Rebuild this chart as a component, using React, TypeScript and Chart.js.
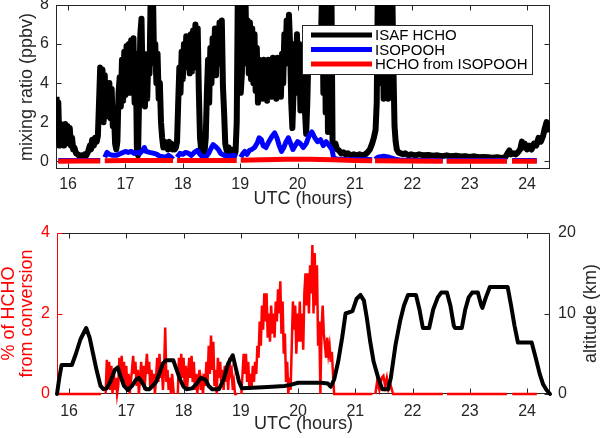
import React, { useEffect, useRef } from 'react';
import { Chart, registerables } from 'chart.js';
Chart.register(...registerables);

const FONT = "'Liberation Sans', Arial, Helvetica, sans-serif";
const AXIS = '#262626';
const RED = '#ff0000';
const BLUE = '#0000ff';
const BLACK = '#000000';

// ---------- tick labels ----------
const xTicks = [16, 17, 18, 19, 20, 21, 22, 23, 24];
const mixTicks = [0, 2, 4, 6, 8];
const pctTicks = [0, 2, 4];
const altTicks = [0, 10, 20];

const legendLabels = ['ISAF HCHO', 'ISOPOOH', 'HCHO from ISOPOOH'];
const legendColors = [BLACK, BLUE, RED];

// ---------- top panel: ISAF HCHO (ppbv) ----------
const hchoTime = [
  15.80, 15.81, 15.83, 15.85, 15.87, 15.89, 15.91, 15.93, 15.95, 15.97, 15.99, 16.01, 16.03, 16.05, 16.07, 16.09,
  16.11, 16.14, 16.17, 16.20, 16.23, 16.26, 16.29, 16.32, 16.35, 16.38, 16.40, 16.42, 16.45, 16.47, 16.50, 16.52,
  16.54, 16.56, 16.58, 16.60, 16.62, 16.64, 16.66, 16.68, 16.70, 16.72, 16.74, 16.76, 16.78, 16.80, 16.82, 16.84,
  16.86, 16.88, 16.90, 16.92, 16.94, 16.96, 16.98, 17.00, 17.02, 17.04, 17.06, 17.08, 17.10, 17.12, 17.14, 17.16,
  17.18, 17.20, 17.22, 17.24, 17.26, 17.28, 17.30, 17.32, 17.34, 17.36, 17.38, 17.40, 17.42, 17.44, 17.46, 17.48,
  17.50, 17.52, 17.54, 17.56, 17.58, 17.60, 17.62, 17.64, 17.66, 17.68, 17.70, 17.72, 17.74, 17.76, 17.78, 17.80,
  17.82, 17.84, 17.86, 17.88, 17.90, 17.92, 17.94, 17.96, 17.98, 18.00, 18.02, 18.04, 18.06, 18.08, 18.10, 18.12,
  18.14, 18.16, 18.18, 18.20, 18.22, 18.24, 18.26, 18.28, 18.30, 18.32, 18.34, 18.36, 18.38, 18.40, 18.42, 18.44,
  18.46, 18.48, 18.50, 18.52, 18.54, 18.56, 18.58, 18.60, 18.62, 18.64, 18.66, 18.68, 18.70, 18.72, 18.74, 18.76,
  18.78, 18.80, 18.82, 18.84, 18.86, 18.88, 18.90, 18.92, 18.94, 18.96, 18.99, 19.01, 19.03, 19.05, 19.09, 19.11,
  19.13, 19.15, 19.17, 19.19, 19.21, 19.23, 19.25, 19.27, 19.29, 19.31, 19.33, 19.35, 19.37, 19.39, 19.41, 19.43,
  19.45, 19.47, 19.49, 19.51, 19.53, 19.55, 19.57, 19.59, 19.61, 19.63, 19.65, 19.67, 19.69, 19.71, 19.73, 19.75,
  19.77, 19.79, 19.81, 19.83, 19.85, 19.87, 19.89, 19.91, 19.93, 19.95, 19.97, 19.99, 20.01, 20.03, 20.05, 20.07,
  20.09, 20.11, 20.13, 20.15, 20.17, 20.19, 20.21, 20.23, 20.25, 20.27, 20.29, 20.31, 20.33, 20.35, 20.37, 20.39,
  20.41, 20.43, 20.45, 20.47, 20.49, 20.51, 20.53, 20.55, 20.57, 20.59, 20.61, 20.63, 20.66, 20.69, 20.72, 20.76,
  20.80, 20.84, 20.88, 20.93, 20.98, 21.03, 21.08, 21.13, 21.18, 21.22, 21.26, 21.30, 21.33, 21.36, 21.38, 21.40,
  21.44, 21.46, 21.48, 21.50, 21.52, 21.54, 21.56, 21.58, 21.60, 21.65, 21.67, 21.69, 21.71, 21.73, 21.76, 21.80,
  21.84, 21.88, 21.93, 21.98, 22.05, 22.12, 22.20, 22.28, 22.36, 22.44, 22.52, 22.60, 22.68, 22.76, 22.84, 22.92,
  23.00, 23.08, 23.16, 23.24, 23.32, 23.40, 23.48, 23.56, 23.62, 23.66, 23.69, 23.72, 23.76, 23.80, 23.84, 23.88,
  23.91, 23.93, 23.96, 24.00, 24.04, 24.08, 24.12, 24.16, 24.20, 24.24, 24.28, 24.31, 24.34, 24.37, 24.40,
];
const hchoPpbv = [
  3.3, 1.2, 3.0, 0.8, 1.9, 0.9, 1.8, 0.8, 1.9, 0.9, 1.8, 1.0, 1.7, 0.8, 1.2, 0.6,
  0.7, 0.4, 0.35, 0.25, 0.3, 0.25, 0.35, 0.3, 0.5, 0.8, 0.6, 1.1, 0.8, 1.2, 1.0, 1.3,
  3.0, 4.8, 4.3, 4.7, 2.0, 4.4, 2.3, 3.9, 2.4, 4.0, 2.2, 3.7, 1.8, 2.5, 0.9, 0.6,
  1.0, 3.5, 4.3, 2.8, 5.2, 3.1, 5.6, 3.4, 5.9, 3.8, 6.0, 3.5, 6.2, 4.2, 6.3, 3.0,
  5.5, 0.6, 0.3, 3.5, 6.5, 7.3, 4.0, 5.5, 2.8, 4.8, 3.2, 5.5, 4.5, 8.5, 8.8, 8.6,
  5.0, 6.0, 4.0, 5.5, 3.2, 4.0, 2.0, 1.2, 0.7, 1.0, 0.7, 0.9, 0.6, 1.0, 0.7, 0.9,
  0.6, 0.8, 0.6, 0.7, 1.0, 3.0, 4.8, 3.5, 5.6, 4.2, 6.0, 4.8, 6.4, 5.0, 6.3, 4.5,
  6.5, 4.6, 6.7, 5.2, 7.0, 4.8, 6.8, 3.5, 1.2, 0.6, 0.4, 0.8, 0.5, 1.2, 3.5, 5.2,
  3.0, 5.8, 4.0, 6.3, 4.5, 6.8, 4.4, 6.6, 5.0, 7.1, 5.5, 7.2, 3.8, 2.5, 0.9, 0.6,
  0.4, 0.7, 0.3, 0.5, 0.3, 0.6, 0.3, 0.5, 2.0, 9.0, 9.0, 3.5, 4.5, 9.0, 9.0, 5.0,
  7.2, 4.5, 7.1, 4.2, 6.8, 4.0, 6.5, 3.6, 5.8, 3.0, 5.2, 3.3, 5.0, 3.2, 5.2, 3.6,
  5.1, 3.1, 5.2, 3.6, 5.0, 3.3, 5.3, 3.8, 5.0, 3.2, 5.3, 3.5, 5.0, 3.3, 5.5, 4.0,
  6.5, 5.0, 7.2, 5.8, 7.5, 6.0, 3.0, 1.7, 3.5, 6.0, 4.0, 6.5, 3.5, 6.0, 2.6, 5.0,
  2.8, 4.5, 2.5, 1.4, 3.0, 5.5, 6.5, 5.0, 6.8, 5.2, 6.5, 5.0, 6.6, 5.2, 6.8, 5.0,
  6.5, 9.0, 3.5, 9.0, 2.5, 9.0, 1.5, 9.0, 3.0, 9.0, 1.0, 0.7, 0.9, 0.6, 0.55, 0.4,
  0.45, 0.35, 0.4, 0.3, 0.35, 0.3, 0.35, 0.3, 0.35, 0.45, 0.6, 0.9, 1.2, 1.6, 3.0, 9.0,
  9.0, 4.0, 8.5, 3.2, 8.5, 3.5, 8.0, 3.2, 9.0, 9.0, 5.0, 1.8, 1.0, 0.6, 0.45, 0.4,
  0.35, 0.4, 0.3, 0.35, 0.3, 0.35, 0.3, 0.32, 0.28, 0.3, 0.26, 0.3, 0.25, 0.28, 0.24, 0.26,
  0.22, 0.25, 0.2, 0.22, 0.2, 0.18, 0.2, 0.17, 0.2, 0.4, 0.55, 0.35, 0.4, 0.35, 0.45, 0.6,
  1.0, 0.7, 0.9, 0.6, 0.8, 0.6, 0.9, 0.8, 1.2, 1.0, 1.3, 1.7, 2.0, 1.8, 1.5,
];

// ---------- top panel: ISOPOOH (ppbv), null = data gap ----------
const isoTime = [
  15.83, 15.95, 16.10, 16.25, 16.40, 16.56, 16.60, 16.64, 16.68, 16.72, 16.78, 16.85, 16.92, 17.00, 17.05, 17.10,
  17.15, 17.20, 17.25, 17.30, 17.33, 17.36, 17.42, 17.50, 17.55, 17.60, 17.70, 17.75, 17.80, 17.83, 17.86, 17.90,
  17.95, 18.00, 18.05, 18.10, 18.15, 18.20, 18.25, 18.30, 18.35, 18.40, 18.45, 18.50, 18.53, 18.57, 18.62, 18.66,
  18.72, 18.80, 18.88, 18.94, 18.97, 19.01, 19.05, 19.08, 19.12, 19.16, 19.20, 19.25, 19.30, 19.33, 19.37, 19.40,
  19.45, 19.50, 19.55, 19.60, 19.64, 19.68, 19.72, 19.76, 19.80, 19.84, 19.88, 19.92, 19.96, 20.00, 20.05, 20.10,
  20.15, 20.20, 20.25, 20.30, 20.35, 20.40, 20.45, 20.50, 20.55, 20.60, 20.63, 20.70, 20.80, 20.90, 21.00, 21.10,
  21.20, 21.30, 21.32, 21.35, 21.40, 21.50, 21.60, 21.70, 21.80, 22.00, 22.20, 22.40, 22.53, 22.56, 22.60, 23.00,
  23.30, 23.65, 23.70, 23.74, 24.00, 24.17,
];
const isoPpbv = [
  0.03, 0.03, 0.04, 0.03, 0.04, 0.03, null, 0.2, 0.45, 0.35, 0.3, 0.3, 0.4, 0.5, 0.45, 0.5,
  0.4, 0.45, 0.4, 0.55, 0.7, 0.5, 0.45, 0.4, 0.35, 0.25, 0.2, 0.3, 0.2, 0.1, null, 0.2,
  0.4, 0.35, 0.45, 0.4, 0.3, 0.45, 0.55, 0.35, 0.2, 0.2, 0.4, 0.7, 0.85, 0.75, 0.6, 0.4,
  0.3, 0.25, 0.3, 0.25, null, 0.2, 0.4, 0.5, 0.35, 0.55, 0.6, 0.7, 0.95, 1.2, 1.1, 0.8,
  0.7, 1.0, 1.25, 1.45, 1.2, 0.8, 0.5, 0.7, 1.0, 1.2, 0.9, 0.6, 0.8, 1.0, 0.9, 0.7,
  0.9, 1.3, 1.5, 1.2, 1.0, 1.1, 0.8, 1.0, 0.8, 0.6, 0.15, 0.1, 0.1, 0.08, 0.1, 0.08,
  0.1, 0.08, null, 0.1, 0.2, 0.25, 0.2, 0.1, 0.05, 0.05, 0.04, 0.04, 0.04, null, 0.03, 0.03,
  0.03, 0.03, null, 0.03, 0.03, 0.03,
];

// ---------- top panel: HCHO from ISOPOOH (ppbv) ----------
const fromTime = [
  15.83, 16.20, 16.56, 16.60, 16.64, 17.00, 17.40, 17.83, 17.86, 17.90, 18.40, 18.94, 18.97, 19.01, 19.40, 19.80,
  20.20, 20.60, 21.00, 21.30, 21.32, 21.35, 21.90, 22.53, 22.56, 22.60, 23.10, 23.65, 23.70, 23.74, 24.17,
];
const fromPpbv = [
  0.0, 0.01, 0.01, null, 0.02, 0.03, 0.03, 0.03, null, 0.03, 0.04, 0.03, null, 0.05, 0.08, 0.1,
  0.1, 0.08, 0.03, 0.02, null, 0.02, 0.01, 0.0, null, 0.0, 0.0, 0.0, null, 0.0, 0.0,
];

// ---------- bottom panel: % of HCHO from conversion ----------
const pctTime = [
  15.83, 16.20, 16.56, 16.60,
  16.64, 16.66, 16.68, 16.70, 16.72, 16.74, 16.76, 16.78, 16.80, 16.82, 16.84, 16.86, 16.88, 16.90, 16.92, 16.94,
  16.96, 16.98, 17.00, 17.02, 17.04, 17.06, 17.08, 17.10, 17.12, 17.14, 17.16, 17.18, 17.20, 17.22, 17.24, 17.26,
  17.28, 17.30, 17.32, 17.34, 17.36, 17.38, 17.40, 17.42, 17.44, 17.46, 17.48, 17.50, 17.52, 17.54, 17.56, 17.58,
  17.60, 17.62, 17.64, 17.66, 17.68, 17.70, 17.72, 17.74, 17.76, 17.78, 17.80, 17.83, 17.86,
  17.90, 17.92, 17.94, 17.96, 17.98, 18.00, 18.02, 18.04, 18.06, 18.08, 18.10, 18.12, 18.14, 18.16, 18.18, 18.20,
  18.22, 18.24, 18.26, 18.28, 18.30, 18.32, 18.34, 18.36, 18.38, 18.40, 18.42, 18.44, 18.46, 18.48, 18.50, 18.52,
  18.54, 18.56, 18.58, 18.60, 18.62, 18.64, 18.66, 18.68, 18.70, 18.72, 18.74, 18.76, 18.78, 18.80, 18.82, 18.84,
  18.86, 18.88, 18.90, 18.94, 18.97,
  19.01, 19.03, 19.05, 19.07, 19.09, 19.11, 19.13, 19.15, 19.17, 19.19, 19.21, 19.23, 19.25, 19.27, 19.29, 19.31,
  19.33, 19.35, 19.37, 19.39, 19.41, 19.43, 19.45, 19.47, 19.49, 19.51, 19.53, 19.55, 19.57, 19.59, 19.61, 19.63,
  19.65, 19.67, 19.69, 19.71, 19.73, 19.75, 19.77, 19.79, 19.81, 19.83, 19.85, 19.87, 19.89, 19.91, 19.93, 19.95,
  19.97, 19.99, 20.01, 20.03, 20.05, 20.07, 20.09, 20.11, 20.13, 20.15, 20.17, 20.19, 20.21, 20.23, 20.25, 20.27,
  20.29, 20.31, 20.33, 20.35, 20.37, 20.39, 20.41, 20.43, 20.45, 20.47, 20.49, 20.51, 20.53, 20.55, 20.57, 20.59,
  20.61, 20.63, 20.90, 21.30, 21.32,
  21.35, 21.38, 21.42, 21.46, 21.49, 21.52, 21.55, 21.58, 21.62, 21.66, 22.10, 22.53, 22.56,
  22.60, 23.10, 23.65, 23.70, 23.74, 24.17,
];
const pctValues = [
  0, 0, 0, null,
  0, 0.85, 0.2, 0.8, 0.1, 0.7, 0, 0.6, 0.1, 0.4, 0, 0.2, 0.9, 0.5, 0.95, 0.3,
  0.8, 0.2, 0.7, 0.1, 0.5, 0, 0.3, 0.6, 0.95, 0.5, 0.8, 0.2, 0.6, 0, 0.4, 0.8,
  0.3, 0.7, 0.1, 0.6, 1.0, 0.5, 0.8, 0.1, 0.6, 0.2, 0.5, 0, 0.4, 0.9, 0.3, 1.0,
  0.4, 0.7, 0.1, 0.6, 1.65, 0.3, 0.6, 0.1, 0.4, 0, 0.5, 0, null,
  0, 0.9, 0.3, 1.0, 0.4, 0.9, 0.2, 0.7, 0.1, 0.5, 0.9, 0.4, 0.95, 0.3, 0.8, 0.1,
  0.5, 0, 0.4, 0.6, 0.1, 0.3, 0, 0.5, 0.2, 0.8, 0.3, 1.2, 0.5, 1.45, 0.6, 1.3,
  0.2, 0.6, 0, 0.9, 0.4, 0.8, 0.2, 0.6, 0.1, 0.7, 0.3, 0.6, 0.1, 0.9, 0.5, 0.6,
  0.1, 0.3, 0, 0, null,
  0, 0.5, 1.0, 0.5, 1.0, 0.3, 0.8, 0.1, 0.5, 0.2, 0.7, 0.3, 0.8, 0.5, 1.2, 0.9,
  1.8, 1.2, 2.2, 1.6, 2.5, 1.8, 2.5, 1.4, 2.0, 1.3, 2.2, 1.5, 2.0, 1.4, 2.3, 1.8,
  2.6, 2.0, 2.8, 1.5, 2.3, 1.0, 1.5, 0.3, 0.8, 0, 0.4, 0.1, 1.2, 2.3, 1.6, 2.2,
  1.0, 2.0, 1.3, 2.3, 1.3, 2.0, 1.1, 2.5, 3.0, 2.2, 3.0, 2.0, 3.2, 2.5, 3.7, 2.0,
  3.5, 2.2, 3.2, 1.2, 1.8, 0, 1.6, 2.2, 1.5, 1.2, 0.9, 1.4, 1.0, 1.2, 0.8, 1.05,
  0.5, 0, 0, 0, null,
  0, 0.3, 0.1, 0.4, 0.45, 0.2, 0.4, 0.1, 0.2, 0, 0, 0, null,
  0, 0, 0, null, 0, 0,
];

// ---------- bottom panel: altitude (km) ----------
const altTime = [
  15.79, 15.83, 15.87, 16.05, 16.12, 16.20, 16.30, 16.36, 16.42, 16.48, 16.55, 16.60, 16.66, 16.72, 16.80, 16.85,
  16.90, 16.96, 17.03, 17.10, 17.17, 17.22, 17.28, 17.34, 17.40, 17.46, 17.52, 17.58, 17.64, 17.70, 17.82, 17.88,
  17.94, 18.00, 18.05, 18.15, 18.22, 18.30, 18.38, 18.44, 18.50, 18.62, 18.70, 18.78, 18.86, 18.92, 18.97, 19.02,
  19.30, 19.55, 19.76, 19.85, 19.90, 20.00, 20.40, 20.52, 20.57, 20.63, 20.70, 20.77, 20.83, 20.95, 21.02, 21.09,
  21.15, 21.20, 21.26, 21.32, 21.40, 21.47, 21.57, 21.62, 21.70, 21.78, 21.85, 21.92, 22.06, 22.12, 22.18, 22.29,
  22.36, 22.44, 22.50, 22.60, 22.66, 22.72, 22.74, 22.86, 22.92, 22.98, 23.04, 23.14, 23.20, 23.22, 23.28, 23.35,
  23.66, 23.72, 23.78, 23.84, 24.08, 24.15, 24.22, 24.28, 24.34, 24.40,
];
const altKm = [
  0, 2.0, 3.6, 3.6, 5.0, 6.8, 8.2, 7.0, 5.0, 3.0, 1.0, 0.6, 0.7, 1.5, 3.0, 3.3,
  2.2, 1.0, 0.5, 1.0, 1.8, 2.0, 1.4, 0.6, 0.6, 1.0, 1.5, 2.6, 3.8, 4.2, 4.2, 3.0,
  1.8, 0.9, 0.6, 0.7, 1.2, 2.0, 1.8, 1.0, 0.6, 0.6, 1.8, 3.8, 4.8, 3.0, 1.5, 0.7,
  0.8, 0.9, 1.0, 1.1, 1.2, 1.4, 1.4, 1.3, 0.9, 1.8, 4.0, 7.0, 10.0, 10.3, 11.8, 12.3,
  11.6, 9.5, 6.5, 4.0, 2.0, 0.6, 0.6, 2.0, 6.0, 9.0, 11.0, 12.3, 12.3, 10.5, 8.2, 8.2,
  10.5, 12.0, 12.6, 12.6, 11.0, 8.5, 8.2, 8.2, 10.5, 12.0, 12.6, 12.6, 11.0, 10.7, 12.0, 13.3,
  13.3, 11.0, 8.5, 6.4, 6.4, 4.5, 2.5, 1.2, 0.5, 0,
];

const X_MIN = 15.79;
const X_MAX = 24.4;

function toXY(ts: number[], vs: (number | null)[]) {
  return ts.map((t, i) => ({ x: t, y: vs[i] === undefined ? null : vs[i] }));
}

function tickFont(size = 16) {
  return { family: FONT, size };
}

function drawRotated(ctx: CanvasRenderingContext2D, text: string, x: number, y: number, color: string, size: number) {
  ctx.save();
  ctx.translate(x, y);
  ctx.rotate(-Math.PI / 2);
  ctx.font = `${size}px ${FONT}`;
  ctx.fillStyle = color;
  ctx.textAlign = 'center';
  ctx.textBaseline = 'middle';
  ctx.fillText(text, 0, 0);
  ctx.restore();
}

const topPlugin = {
  id: 'topFrame',
  beforeDatasetsDraw(chart: any) {
    const { ctx, chartArea: a, scales } = chart;
    const L = Math.round(a.left) + 0.5;
    const R = Math.round(a.right) - 0.5;
    const T = Math.round(a.top) + 0.5;
    const B = Math.round(a.bottom) - 0.5;
    ctx.save();
    ctx.strokeStyle = AXIS;
    ctx.lineWidth = 1;
    ctx.strokeRect(L, T, R - L, B - T);
    ctx.beginPath();
    scales.x.ticks.forEach((t: any) => {
      const px = Math.round(scales.x.getPixelForValue(t.value)) + 0.5;
      ctx.moveTo(px, B); ctx.lineTo(px, B - 5);
      ctx.moveTo(px, T); ctx.lineTo(px, T + 5);
    });
    scales.y.ticks.forEach((t: any) => {
      const py = Math.round(scales.y.getPixelForValue(t.value)) + 0.5;
      ctx.moveTo(L, py); ctx.lineTo(L + 5, py);
      ctx.moveTo(R, py); ctx.lineTo(R - 5, py);
    });
    ctx.stroke();
    ctx.restore();
  },
  afterDraw(chart: any) {
    const { ctx, chartArea: a } = chart;
    // legend
    const lx = a.right - 248, ly = a.top + 20, lw = 230, lh = 49;
    ctx.save();
    ctx.fillStyle = '#ffffff';
    ctx.fillRect(lx, ly, lw, lh);
    ctx.strokeStyle = AXIS;
    ctx.lineWidth = 1;
    ctx.strokeRect(Math.round(lx) + 0.5, Math.round(ly) + 0.5, lw, lh);
    ctx.font = `15px ${FONT}`;
    ctx.textAlign = 'left';
    ctx.textBaseline = 'middle';
    legendLabels.forEach((lab, i) => {
      const y = ly + 10 + i * 14.5;
      ctx.strokeStyle = legendColors[i];
      ctx.lineWidth = 5;
      ctx.beginPath();
      ctx.moveTo(lx + 9, y);
      ctx.lineTo(lx + 70, y);
      ctx.stroke();
      ctx.fillStyle = '#000';
      ctx.fillText(lab, lx + 73, y + 1);
    });
    // axis titles
    drawRotated(ctx, 'mixing ratio (ppbv)', 27, (a.top + a.bottom) / 2, AXIS, 18);
    ctx.font = `18px ${FONT}`;
    ctx.fillStyle = AXIS;
    ctx.textAlign = 'center';
    ctx.textBaseline = 'middle';
    ctx.fillText('UTC (hours)', (a.left + a.right) / 2, 199);
    ctx.restore();
  },
};

const bottomPlugin = {
  id: 'bottomFrame',
  beforeDatasetsDraw(chart: any) {
    const { ctx, chartArea: a, scales } = chart;
    const L = Math.round(a.left) + 0.5;
    const R = Math.round(a.right) - 0.5;
    const T = Math.round(a.top) + 0.5;
    const B = Math.round(a.bottom) - 0.5;
    ctx.save();
    ctx.lineWidth = 1;
    ctx.strokeStyle = AXIS;
    ctx.beginPath();
    ctx.moveTo(L, T); ctx.lineTo(R, T);
    ctx.moveTo(L, B); ctx.lineTo(R, B);
    ctx.moveTo(R, T); ctx.lineTo(R, B);
    scales.x.ticks.forEach((t: any) => {
      const px = Math.round(scales.x.getPixelForValue(t.value)) + 0.5;
      ctx.moveTo(px, B); ctx.lineTo(px, B - 5);
      ctx.moveTo(px, T); ctx.lineTo(px, T + 5);
    });
    scales.y2.ticks.forEach((t: any) => {
      const py = Math.round(scales.y2.getPixelForValue(t.value)) + 0.5;
      ctx.moveTo(R, py); ctx.lineTo(R - 5, py);
    });
    ctx.stroke();
    ctx.strokeStyle = RED;
    ctx.beginPath();
    ctx.moveTo(L, T); ctx.lineTo(L, B);
    scales.y.ticks.forEach((t: any) => {
      const py = Math.round(scales.y.getPixelForValue(t.value)) + 0.5;
      ctx.moveTo(L, py); ctx.lineTo(L + 5, py);
    });
    ctx.stroke();
    ctx.restore();
  },
  afterDraw(chart: any) {
    const { ctx, chartArea: a } = chart;
    const cy = (a.top + a.bottom) / 2;
    drawRotated(ctx, '% of HCHO', 9.5, cy, RED, 18);
    drawRotated(ctx, 'from conversion', 27.5, cy, RED, 18);
    drawRotated(ctx, 'altitude (km)', 591, cy, AXIS, 18);
    ctx.save();
    ctx.font = `18px ${FONT}`;
    ctx.fillStyle = AXIS;
    ctx.textAlign = 'center';
    ctx.textBaseline = 'middle';
    ctx.fillText('UTC (hours)', (a.left + a.right) / 2, 212);
    ctx.restore();
  },
};

const lineStyle = {
  pointRadius: 0,
  pointHoverRadius: 0,
  tension: 0,
  fill: false,
  spanGaps: false,
  borderJoinStyle: 'round' as const,
  borderCapStyle: 'butt' as const,
};

export default function App() {
  const topRef = useRef<HTMLCanvasElement>(null);
  const botRef = useRef<HTMLCanvasElement>(null);

  useEffect(() => {
    const xScale = (height: number, pad: number) => ({
      type: 'linear' as const,
      min: X_MIN,
      max: X_MAX,
      grid: { display: false, drawTicks: false },
      border: { display: false },
      ticks: {
        font: tickFont(16),
        color: AXIS,
        padding: pad,
        maxRotation: 0,
        autoSkip: false,
        callback: (v: any) => String(v),
      },
      afterBuildTicks: (s: any) => {
        s.ticks = xTicks.map((v) => ({ value: v }));
      },
      afterFit: (s: any) => {
        s.height = height;
        s.paddingLeft = 0;
        s.paddingRight = 0;
      },
    });

    const yFit = (w: number) => (s: any) => {
      s.width = w;
      s.paddingTop = 0;
      s.paddingBottom = 0;
    };

    const top = new Chart(topRef.current!, {
      type: 'line',
      data: {
        datasets: [
          { label: legendLabels[2], data: toXY(fromTime, fromPpbv), borderColor: RED, borderWidth: 5, clip: 0, ...lineStyle },
          { label: legendLabels[1], data: toXY(isoTime, isoPpbv), borderColor: BLUE, borderWidth: 5, clip: 0, ...lineStyle },
          { label: legendLabels[0], data: toXY(hchoTime, hchoPpbv), borderColor: BLACK, borderWidth: 6, clip: 0, ...lineStyle },
        ] as any,
      },
      options: {
        animation: false,
        responsive: false,
        devicePixelRatio: 1,
        events: [],
        layout: { padding: { top: 5, right: 50, left: 0, bottom: 0 } },
        plugins: { legend: { display: false }, tooltip: { enabled: false }, title: { display: false } },
        scales: {
          x: xScale(43, 6),
          y: {
            type: 'linear',
            min: -0.4,
            max: 8,
            grid: { display: false, drawTicks: false },
            border: { display: false },
            ticks: { font: tickFont(16), color: AXIS, padding: 7 },
            afterBuildTicks: (s: any) => {
              s.ticks = mixTicks.map((v) => ({ value: v }));
            },
            afterFit: yFit(56),
          },
        } as any,
      },
      plugins: [topPlugin],
    });

    const bottom = new Chart(botRef.current!, {
      type: 'line',
      data: {
        datasets: [
          { label: 'altitude', data: toXY(altTime, altKm), borderColor: BLACK, borderWidth: 4, yAxisID: 'y2', clip: false, ...lineStyle, borderCapStyle: 'round' },
          { label: '% of HCHO from conversion', data: toXY(pctTime, pctValues), borderColor: RED, borderWidth: 2.5, yAxisID: 'y', clip: false, ...lineStyle, borderJoinStyle: 'miter' },
        ] as any,
      },
      options: {
        animation: false,
        responsive: false,
        devicePixelRatio: 1,
        events: [],
        layout: { padding: { top: 21, right: 0, left: 0, bottom: 0 } },
        plugins: { legend: { display: false }, tooltip: { enabled: false }, title: { display: false } },
        scales: {
          x: xScale(44, 8),
          y: {
            type: 'linear',
            position: 'left',
            min: 0,
            max: 4,
            grid: { display: false, drawTicks: false },
            border: { display: false },
            ticks: { font: tickFont(16), color: RED, padding: 7 },
            afterBuildTicks: (s: any) => {
              s.ticks = pctTicks.map((v) => ({ value: v }));
            },
            afterFit: yFit(57),
          },
          y2: {
            type: 'linear',
            position: 'right',
            min: 0,
            max: 20,
            grid: { display: false, drawTicks: false },
            border: { display: false },
            ticks: { font: tickFont(16), color: AXIS, padding: 8 },
            afterBuildTicks: (s: any) => {
              s.ticks = altTicks.map((v) => ({ value: v }));
            },
            afterFit: yFit(50),
          },
        } as any,
      },
      plugins: [bottomPlugin],
    });

    return () => {
      top.destroy();
      bottom.destroy();
    };
  }, []);

  return (
    <div style={{ position: 'absolute', left: 0, top: 0, width: 600, height: 438, background: '#fff' }}>
      <canvas ref={topRef} width={600} height={212} style={{ display: 'block', width: 600, height: 212 }} />
      <canvas ref={botRef} width={600} height={226} style={{ display: 'block', width: 600, height: 226 }} />
    </div>
  );
}
